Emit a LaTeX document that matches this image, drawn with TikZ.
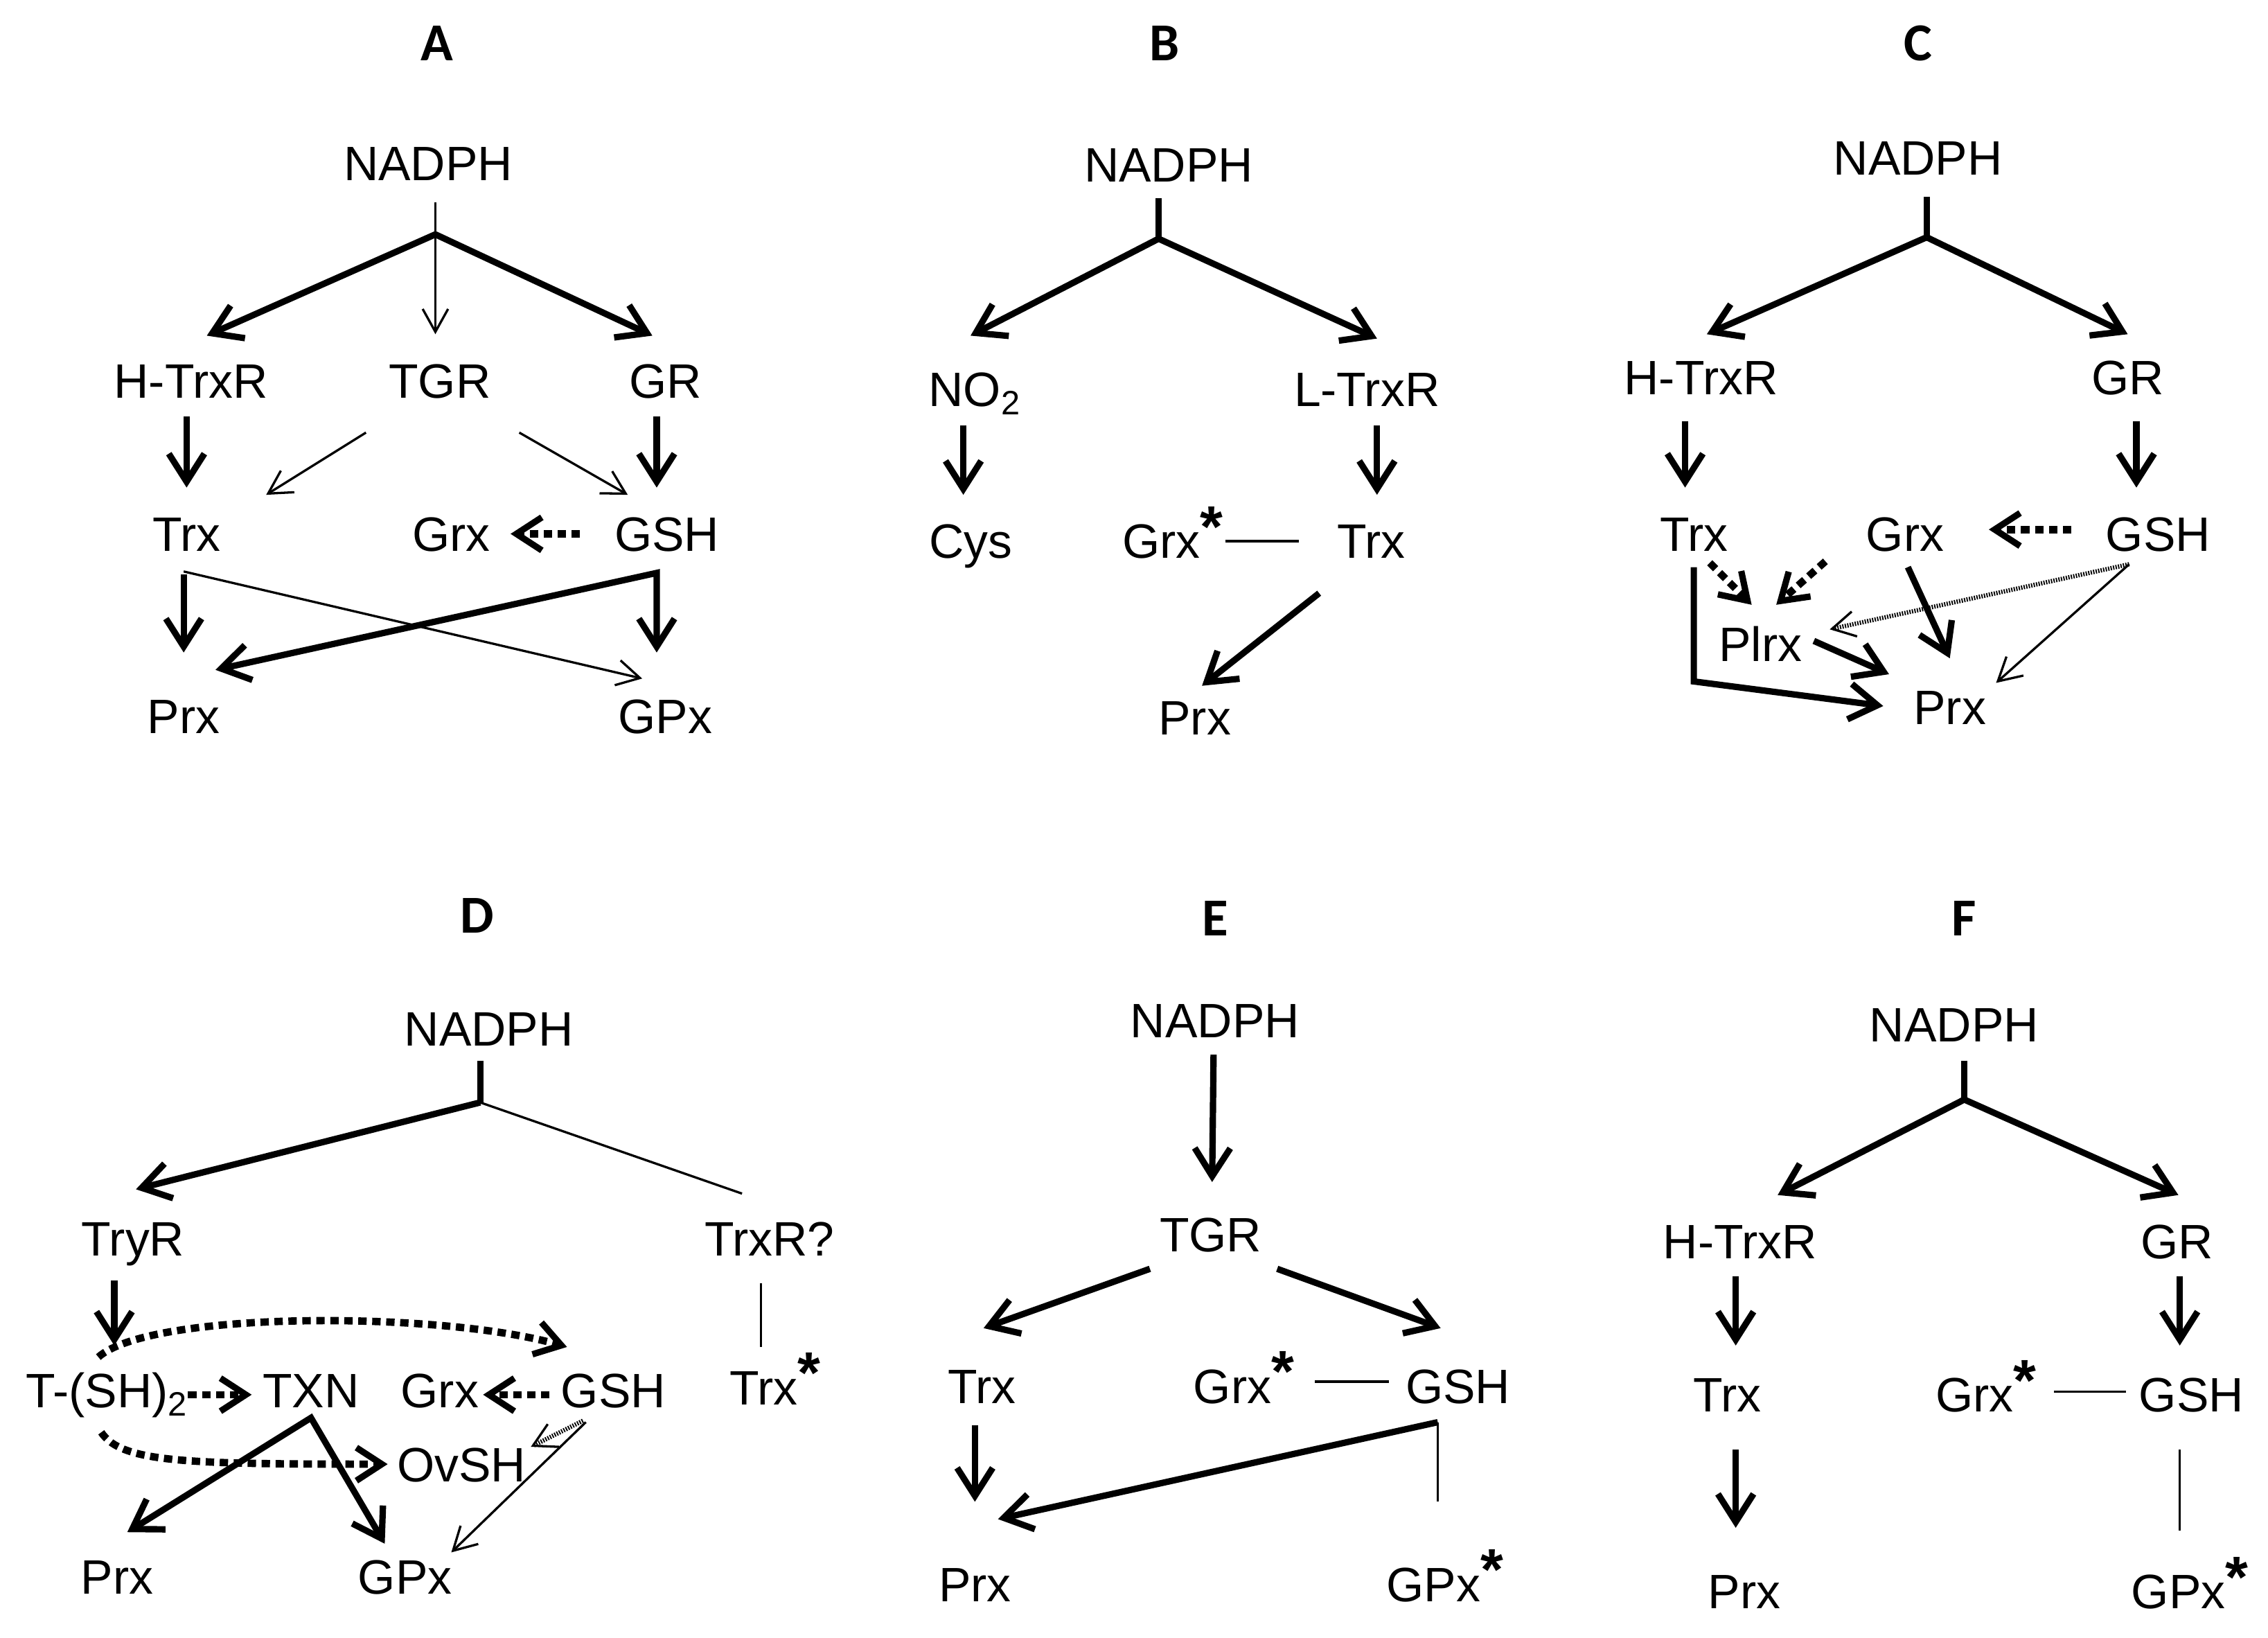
\documentclass[tikz,border=0pt]{standalone}
\usepackage{fontspec}
\setmainfont{Liberation Sans}
\newfontfamily\panelfont{Carlito}
\usetikzlibrary{arrows.meta,calc}
\newcommand{\supstar}{\rlap{\raisebox{4.5pt}{\fontsize{23}{23}\selectfont\bfseries *}}}
\begin{document}
\begin{tikzpicture}[x=0.02cm,y=-0.02cm,
  lbl/.style={inner sep=0pt,text height=13.6pt,text depth=0pt,font=\fontsize{19}{22}\selectfont},
  panel/.style={inner sep=0pt,font=\panelfont\bfseries\fontsize{21}{24}\selectfont},
  stalk/.style={line width=2.5pt},
  thk/.style={line width=2.5pt,-{Straight Barb[length=11pt,width=14pt]}},
  dbl/.style={line width=2.5pt,{Straight Barb[length=11pt,width=14pt]}-{Straight Barb[length=11pt,width=14pt]}},
  thn/.style={line width=0.9pt,-{Straight Barb[length=9pt,width=10pt]}},
  lnk/.style={line width=0.9pt},
  dtk/.style={line width=2.9pt,dash pattern=on 3.3pt off 2.2pt,-{Straight Barb[length=10pt,width=13pt,line width=2.5pt]}},
  dtn/.style={line width=1.7pt,dash pattern=on 0.5pt off 0.5pt,-{Straight Barb[length=9pt,width=10pt,line width=0.9pt]}}]
\useasboundingbox (0,0) rectangle (1568,1132);

\node[panel] (aLbl) at (302,30) {A};
\node[lbl] (aN) at (296,113) {NADPH};
\node[lbl] (aHT) at (132,263) {H-TrxR};
\node[lbl] (aTGR) at (304,263) {TGR};
\node[lbl] (aGR) at (460,263) {GR};
\node[lbl] (aTrx) at (129,369) {Trx};
\node[lbl] (aGrx) at (312,369) {Grx};
\node[lbl] (aGSH) at (461,369) {GSH};
\node[lbl] (aPrx) at (127,495) {Prx};
\node[lbl] (aGPx) at (460,495) {GPx};
\coordinate (aFork) at (301,162);
\draw[thn] ($(aN)+(5,27)$) -- ($(aTGR)+(-3,-32)$);
\draw[thk] (aFork) -- ($(aHT)+(11,-31)$);
\draw[thk] (aFork) -- ($(aGR)+(-9,-31)$);
\draw[thk] ($(aHT)+(-3,25)$) -- ($(aTrx)+(0,-32)$);
\draw[thk] ($(aGR)+(-6,25)$) -- ($(aGSH)+(-7,-32)$);
\draw[thn] ($(aTGR)+(-51,36)$) -- ($(aTrx)+(55,-27)$);
\draw[thn] ($(aTGR)+(55,36)$) -- ($(aGSH)+(-27,-27)$);
\draw[dtk] ($(aGSH)+(-60,0)$) -- ($(aGrx)+(41,0)$);
\draw[thk] ($(aTrx)+(-2,28)$) -- ($(aPrx)+(0,-44)$);
\draw[thn] ($(aTrx)+(-2,26)$) -- ($(aGPx)+(-16,-26)$);
\draw[dbl] ($(aPrx)+(22,-32)$) -- ($(aGSH)+(-7,27)$) -- ($(aGPx)+(-6,-44)$);

\node[panel] (bLbl) at (805,30) {B};
\node[lbl] (bN) at (808,114) {NADPH};
\node[lbl] (bNO) at (674,269) {NO\textsubscript{2}};
\node[lbl] (bLT) at (945,269) {L-TrxR};
\node[lbl] (bCys) at (671,374) {Cys};
\node[lbl] (bGrx) at (803,374) {Grx\supstar};
\node[lbl] (bTrx) at (948,374) {Trx};
\node[lbl] (bPrx) at (826,496) {Prx};
\coordinate (bFork) at (801,165);
\draw[stalk] ($(bN)+(-7,23)$) -- (bFork);
\draw[thk] (bFork) -- ($(bNO)+(-3,-37)$);
\draw[thk] (bFork) -- ($(bLT)+(7,-35)$);
\draw[thk] ($(bNO)+(-8,25)$) -- ($(bCys)+(-5,-32)$);
\draw[thk] ($(bLT)+(7,25)$) -- ($(bTrx)+(4,-32)$);
\draw[lnk] ($(bGrx)+(44,0)$) -- ($(bTrx)+(-50,0)$);
\draw[thk] ($(bTrx)+(-36,36)$) -- ($(bPrx)+(5,-22)$);

\node[panel] (cLbl) at (1326,30) {C};
\node[lbl] (cN) at (1326,109) {NADPH};
\node[lbl] (cHT) at (1176,261) {H-TrxR};
\node[lbl] (cGR) at (1471,261) {GR};
\node[lbl] (cTrx) at (1171,369) {Trx};
\node[lbl] (cGrx) at (1317,369) {Grx};
\node[lbl] (cGSH) at (1492,369) {GSH};
\node[lbl] (cPl) at (1217,445) {Plrx};
\node[lbl] (cPrx) at (1348,489) {Prx};
\coordinate (cFork) at (1332,164);
\draw[stalk] ($(cN)+(6,27)$) -- (cFork);
\draw[thk] (cFork) -- ($(cHT)+(4,-30)$);
\draw[thk] (cFork) -- ($(cGR)+(0,-30)$);
\draw[thk] ($(cHT)+(-11,30)$) -- ($(cTrx)+(-6,-32)$);
\draw[thk] ($(cGR)+(6,30)$) -- ($(cGSH)+(-15,-32)$);
\draw[dtk] ($(cGSH)+(-60,-3)$) -- ($(cGrx)+(58,-3)$);
\draw[thk] ($(cTrx)+(0,23)$) -- ($(cTrx)+(0,102)$) -- ($(cPrx)+(-46,-1)$);
\draw[dtk] ($(cTrx)+(11,20)$) -- ($(cPl)+(-6,-27)$);
\draw[dtk] ($(cGrx)+(-55,19)$) -- ($(cPl)+(11,-27)$);
\draw[thk] ($(cPl)+(37,-2)$) -- ($(cPrx)+(-42,-23)$);
\draw[thk] ($(cGrx)+(2,23)$) -- ($(cPrx)+(0,-34)$);
\draw[dtn] ($(cGSH)+(-20,21)$) -- ($(cPl)+(48,-10)$);
\draw[thn] ($(cGSH)+(-20,21)$) -- ($(cPrx)+(32,-17)$);

\node[panel] (dLbl) at (330,633) {D};
\node[lbl] (dN) at (338,711) {NADPH};
\node[lbl] (dTryR) at (92,856) {TryR};
\node[lbl] (dTrxR) at (532,856) {TrxR?};
\node[lbl] (dTSH) at (74,961) {T-(SH)\textsubscript{2}};
\node[lbl] (dTXN) at (215,961) {TXN};
\node[lbl] (dGrx) at (304,961) {Grx};
\node[lbl] (dGSH) at (424,961) {GSH};
\node[lbl] (dTrx) at (528,959) {Trx\supstar};
\node[lbl] (dOv) at (319,1012) {OvSH};
\node[lbl] (dPrx) at (81,1090) {Prx};
\node[lbl] (dGPx) at (280,1090) {GPx};
\coordinate (dFork) at (332,762);
\draw[stalk] ($(dN)+(-6,22)$) -- (dFork);
\draw[thk] (dFork) -- ($(dTryR)+(2,-34)$);
\draw[lnk] (dFork) -- ($(dTrxR)+(-19,-31)$);
\draw[thk] ($(dTryR)+(-13,29)$) -- ($(dTSH)+(5,-31)$);
\draw[lnk] ($(dTrxR)+(-6,31)$) -- ($(dTrx)+(-2,-28)$);
\draw[dtk] ($(dTSH)+(56,3)$) -- ($(dTXN)+(-41,3)$);
\draw[dtk] ($(dGSH)+(-44,3)$) -- ($(dGrx)+(30,3)$);
\draw[dtk] ($(dTSH)+(-6,-23)$) .. controls ($(dTSH)+(30,-55)$) and ($(dGSH)+(-120,-55)$) .. ($(dGSH)+(-32,-30)$);
\draw[dtk] ($(dTSH)+(-4,29)$) .. controls ($(dTSH)+(10,50)$) and ($(dOv)+(-190,0)$) .. ($(dOv)+(-51,0)$);
\draw[dbl] ($(dPrx)+(7,-31)$) -- ($(dTXN)+(0,19)$) -- ($(dGPx)+(-14,-23)$);
\draw[dtn] ($(dGSH)+(-21,21)$) -- ($(dOv)+(48,-12)$);
\draw[thn] ($(dGSH)+(-19,22)$) -- ($(dGPx)+(32,-17)$);

\node[panel] (eLbl) at (840,635) {E};
\node[lbl] (eN) at (840,705) {NADPH};
\node[lbl] (eTGR) at (837,853) {TGR};
\node[lbl] (eTrx) at (679,958) {Trx};
\node[lbl] (eGrx) at (852,958) {Grx\supstar};
\node[lbl] (eGSH) at (1008,958) {GSH};
\node[lbl] (ePrx) at (674,1095) {Prx};
\node[lbl] (eGPx) at (991,1095) {GPx\supstar};
\draw[thk] ($(eN)+(-1,24)$) -- ($(eTGR)+(1,-36)$);
\draw[thk] ($(eTGR)+(-42,24)$) -- ($(eTrx)+(1,-40)$);
\draw[thk] ($(eTGR)+(46,24)$) -- ($(eGSH)+(-12,-40)$);
\draw[lnk] ($(eGrx)+(57,-3)$) -- ($(eGSH)+(-48,-3)$);
\draw[thk] ($(eTrx)+(-5,27)$) -- ($(ePrx)+(0,-57)$);
\draw[thk] ($(eGSH)+(-14,25)$) -- ($(ePrx)+(16,-45)$);
\draw[lnk] ($(eGSH)+(-14,25)$) -- ($(eGPx)+(3,-57)$);

\node[panel] (fLbl) at (1358,635) {F};
\node[lbl] (fN) at (1351,708) {NADPH};
\node[lbl] (fHT) at (1203,858) {H-TrxR};
\node[lbl] (fGR) at (1505,858) {GR};
\node[lbl] (fTrx) at (1194,964) {Trx};
\node[lbl] (fGrx) at (1365,964) {Grx\supstar};
\node[lbl] (fGSH) at (1515,964) {GSH};
\node[lbl] (fPrx) at (1206,1100) {Prx};
\node[lbl] (fGPx) at (1506,1100) {GPx\supstar};
\coordinate (fFork) at (1358,760);
\draw[stalk] ($(fN)+(7,25)$) -- (fFork);
\draw[thk] (fFork) -- ($(fHT)+(26,-32)$);
\draw[thk] (fFork) -- ($(fGR)+(1,-32)$);
\draw[thk] ($(fHT)+(-3,24)$) -- ($(fTrx)+(6,-34)$);
\draw[thk] ($(fGR)+(2,24)$) -- ($(fGSH)+(-8,-34)$);
\draw[lnk] ($(fGrx)+(55,-2)$) -- ($(fGSH)+(-45,-2)$);
\draw[thk] ($(fTrx)+(6,38)$) -- ($(fPrx)+(-6,-44)$);
\draw[lnk] ($(fGSH)+(-8,38)$) -- ($(fGPx)+(1,-42)$);
\end{tikzpicture}
\end{document}
